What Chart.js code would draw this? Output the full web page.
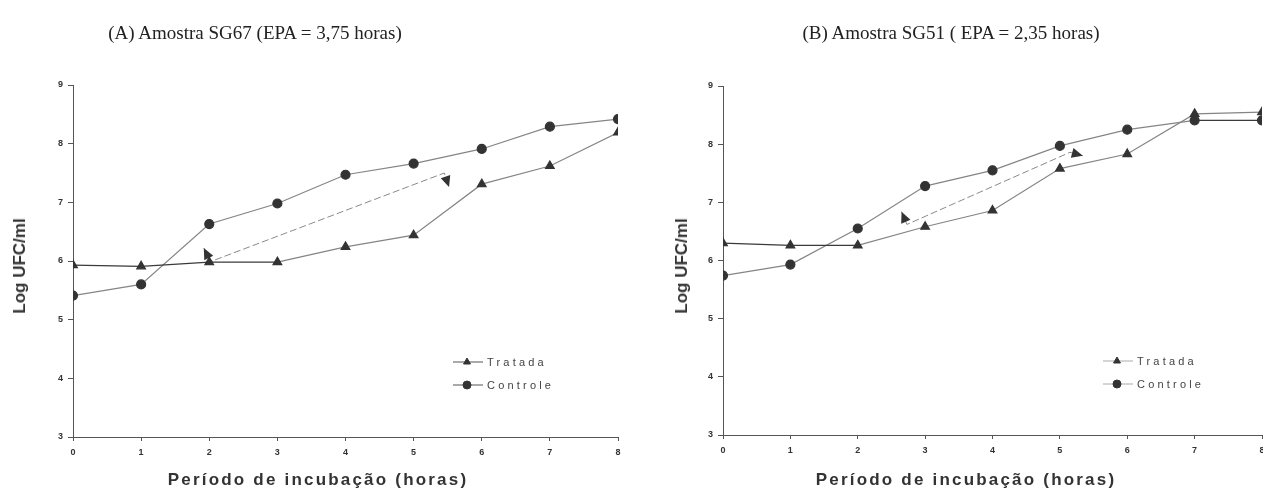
<!DOCTYPE html>
<html>
<head>
<meta charset="utf-8">
<script src="https://cdn.jsdelivr.net/npm/chart.js@4.4.0/dist/chart.umd.min.js"></script>
<style>
  body { margin:0; width:1263px; height:495px; overflow:hidden; position:relative; background:#fff; }
  canvas { position:absolute; top:0; }
  .titulo { position:absolute; top:22px; font-family:"Liberation Serif","Times New Roman",serif; font-size:19px; color:#222; white-space:nowrap; transform:translateX(-50%); z-index:2; }
  .eixoX { position:absolute; top:470px; font-family:"Liberation Sans",Arial,sans-serif; font-weight:bold; font-size:17px; letter-spacing:2.2px; color:#333; white-space:nowrap; transform:translateX(-50%); z-index:2; }
  .eixoY { position:absolute; font-family:"Liberation Sans",Arial,sans-serif; font-weight:bold; font-size:17px; color:#333; white-space:nowrap; transform:translate(-50%,-50%) rotate(-90deg); z-index:2; }
</style>
</head>
<body>
<div class="titulo" style="left:255px">(A) Amostra SG67 (EPA = 3,75 horas)</div>
<div class="titulo" style="left:951px">(B) Amostra SG51 ( EPA = 2,35 horas)</div>
<div class="eixoX" style="left:318px">Período de incubação (horas)</div>
<div class="eixoX" style="left:966px">Período de incubação (horas)</div>
<div class="eixoY" style="left:20px;top:266px">Log UFC/ml</div>
<div class="eixoY" style="left:682px;top:266px">Log UFC/ml</div>
<canvas id="chartA" width="640" height="495" style="left:0"></canvas>
<canvas id="chartB" width="640" height="495" style="left:640px"></canvas>
<script>
// horas de incubacao
var horas = [0, 1, 2, 3, 4, 5, 6, 7, 8]
var yMin = 3, yMax = 9

// (A) SG67
var tratadaA = [5.93, 5.91, 5.98, 5.98, 6.24, 6.44, 7.31, 7.62, 8.19]
var controleA = [5.41, 5.60, 6.63, 6.98, 7.47, 7.66, 7.91, 8.29, 8.42]
var epaA_x = [1.92, 2.02, 5.45, 5.52]
var epaA_y = [6.22, 5.99, 7.50, 7.26]

// (B) SG51
var tratadaB = [6.30, 6.26, 6.26, 6.58, 6.86, 7.58, 7.83, 8.52, 8.55]
var controleB = [5.74, 5.93, 6.55, 7.28, 7.55, 7.97, 8.25, 8.41, 8.41]
var epaB_x = [2.65, 2.73, 5.15, 5.34]
var epaB_y = [6.84, 6.62, 7.86, 7.80]

var legendaNomes = ["Tratada", "Controle"]

var cinza = "#858585"
var escuro = "#3a3a3a"

function pontos(xs, ys) {
    return xs.map(function(x, i){ return {x: x, y: ys[i]} })
}

// setas nas pontas da linha do EPA
var setaPlugin = {
    id: "seta",
    afterDatasetsDraw: function(chart) {
        var ctx = chart.ctx
        chart.data.datasets.forEach(function(ds, i){
            if (!ds.seta) return
            var pts = chart.getDatasetMeta(i).data
            var n = pts.length
            desenhaSeta(ctx, pts[1], pts[0])
            desenhaSeta(ctx, pts[n-2], pts[n-1])
        })
    }
}
function desenhaSeta(ctx, de, para) {
    var ang = Math.atan2(para.y - de.y, para.x - de.x)
    var L = 11, W = 5
    ctx.save()
    ctx.translate(para.x, para.y)
    ctx.rotate(ang)
    ctx.fillStyle = "#333"
    ctx.beginPath()
    ctx.moveTo(0, 0)
    ctx.lineTo(-L, -W)
    ctx.lineTo(-L, W)
    ctx.closePath()
    ctx.fill()
    ctx.restore()
}

// legenda desenhada dentro do grafico
var legendaPlugin = {
    id: "legendaCustom",
    afterDraw: function(chart, args, opts) {
        var ctx = chart.ctx
        var estilos = ["triangle", "circle"]
        ctx.save()
        legendaNomes.forEach(function(nome, i){
            var y = opts.y + i * 23
            ctx.strokeStyle = opts.corLinha
            ctx.lineWidth = 1
            ctx.beginPath()
            ctx.moveTo(opts.x, y)
            ctx.lineTo(opts.x + 30, y)
            ctx.stroke()
            ctx.fillStyle = "#333"
            ctx.strokeStyle = "#333"
            Chart.helpers.drawPoint(ctx, {pointStyle: estilos[i], radius: 4, borderWidth: 1}, opts.x + 14, y)
            ctx.fillStyle = "#444"
            ctx.font = "11px 'Liberation Sans', Arial, sans-serif"
            ctx.letterSpacing = "3.2px"
            ctx.textBaseline = "middle"
            ctx.fillText(nome, opts.x + 34, y + 1)
        })
        ctx.restore()
    }
}

function desenha(id, tratada, controle, epaX, epaY, cfg) {
    var fonteTick = {family: "'Liberation Sans', Arial, sans-serif", size: 9, weight: "bold"}
    var el = document.getElementById(id).getContext("2d")
    return new Chart(el, {
        type: "line",
        data: {
            datasets: [
                {
                    label: "Tratada",
                    data: pontos(horas, tratada),
                    borderColor: cinza,
                    borderWidth: 1.2,
                    pointStyle: "triangle",
                    pointRadius: 5,
                    pointBackgroundColor: "#333",
                    pointBorderColor: "#333",
                    segment: {
                        borderColor: function(c){ return c.p0DataIndex < cfg.escuroTratada ? escuro : cinza }
                    }
                },
                {
                    label: "Controle",
                    data: pontos(horas, controle),
                    borderColor: cinza,
                    borderWidth: 1.2,
                    pointStyle: "circle",
                    pointRadius: 4.5,
                    pointBackgroundColor: "#333",
                    pointBorderColor: "#333",
                    segment: {
                        borderColor: function(c){ return c.p0DataIndex >= cfg.escuroControle ? escuro : cinza }
                    }
                },
                {
                    label: "EPA",
                    data: pontos(epaX, epaY),
                    seta: true,
                    borderColor: "#8a8a8a",
                    borderWidth: 1,
                    borderDash: [7, 3],
                    pointRadius: 0
                }
            ]
        },
        options: {
            responsive: false,
            animation: false,
            layout: {padding: cfg.padding},
            plugins: {
                legend: {display: false},
                tooltip: {enabled: false},
                legendaCustom: cfg.legenda
            },
            scales: {
                x: {
                    type: "linear",
                    min: horas[0],
                    max: horas[horas.length - 1],
                    ticks: {stepSize: 1, color: "#333", font: fonteTick, padding: 6, maxRotation: 0},
                    grid: {drawOnChartArea: false, tickLength: 4, color: "#555"},
                    border: {color: "#555"},
                    afterFit: function(s){ s.height = 22 }
                },
                y: {
                    min: yMin,
                    max: yMax,
                    ticks: {stepSize: 1, color: "#333", font: fonteTick, padding: 5},
                    grid: {drawOnChartArea: false, tickLength: 5, color: "#555"},
                    border: {color: "#555"},
                    afterFit: function(s){ s.width = 30 }
                }
            }
        },
        plugins: [setaPlugin, legendaPlugin]
    })
}

desenha("chartA", tratadaA, controleA, epaA_x, epaA_y, {
    padding: {left: 43, right: 22, top: 85, bottom: 36},
    escuroTratada: 3,
    escuroControle: 99,
    legenda: {x: 453, y: 362, corLinha: "#555"}
})

desenha("chartB", tratadaB, controleB, epaB_x, epaB_y, {
    padding: {left: 53, right: 18, top: 86, bottom: 38},
    escuroTratada: 2,
    escuroControle: 7,
    legenda: {x: 463, y: 361, corLinha: "#aaa"}
})
</script>
</body>
</html>
